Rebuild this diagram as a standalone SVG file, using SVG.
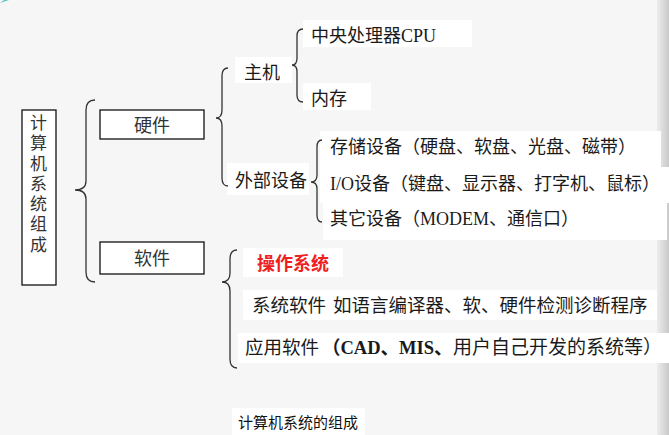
<svg xmlns="http://www.w3.org/2000/svg" width="669" height="435" viewBox="0 0 669 435">
<defs>
<linearGradient id="edge" x1="0" y1="0" x2="1" y2="0">
<stop offset="0" stop-color="#ececec"/>
<stop offset="1" stop-color="#c9c9c9"/>
</linearGradient>
<style>
.bg{fill:#f6f6f6}
.patch{fill:#ffffff}
.box{fill:#ffffff;stroke:#111;stroke-width:1.3}
.brace{fill:none;stroke:#333;stroke-width:1.3}
.t{font-family:"Liberation Serif","Noto Sans CJK SC",serif;font-size:18px;fill:#1a1a1a}
.s{font-family:"Noto Sans CJK SC","Liberation Sans",sans-serif;fill:#333}
.red{font-family:"Liberation Serif","Noto Sans CJK SC",serif;font-size:18px;font-weight:bold;fill:#f02020}
.cap{font-family:"Noto Sans CJK SC","Liberation Sans",sans-serif;font-size:15px;fill:#111}
</style>
</defs>
<rect class="bg" x="0" y="0" width="669" height="435"/>
<rect x="657" y="0" width="12" height="435" fill="url(#edge)"/>
<path d="M0,3 L9,0 L4,0 Z" fill="#5cc6c0"/>
<g id="patches">
<rect class="patch" x="303" y="20" width="169" height="27"/>
<rect class="patch" x="235" y="57" width="57" height="26"/>
<rect class="patch" x="303" y="83" width="68" height="27"/>
<rect class="patch" x="320" y="131" width="341" height="36"/>
<rect class="patch" x="227" y="163" width="82" height="32"/>
<rect class="patch" x="320" y="167" width="349" height="36"/>
<rect class="patch" x="323" y="203" width="344" height="37"/>
<rect class="patch" x="243" y="248" width="100" height="29"/>
<rect class="patch" x="243" y="290" width="414" height="30"/>
<rect class="patch" x="238" y="333" width="431" height="30"/>
<rect class="patch" x="232" y="408" width="133" height="27"/>
</g>
<g id="connectors">
<path class="brace" d="M95,100 Q86,100 86,110 L86,181 Q86,190 75,190 Q86,190 86,199 L86,272 Q86,282 95,282"/>
<path class="brace" d="M228,68 Q222,68 222,76 L222,110 Q222,118 216,118 Q222,118 222,126 L222,178 Q222,186 228,186"/>
<path class="brace" d="M303,29 Q297,29 297,36 L297,58 Q297,65 292,65 Q297,65 297,72 L297,95 Q297,102 303,102"/>
<path class="brace" d="M322,140 Q317,140 317,147 L317,175 Q317,182 311,182 Q317,182 317,189 L317,215 Q317,222 322,222"/>
<path class="brace" d="M237,250 Q230,250 230,259 L230,273 Q230,282 222,282 Q230,282 230,291 L230,359 Q230,368 237,368"/>
</g>
<g id="root">
<rect class="box" x="22" y="110" width="34" height="175"/>
<text class="s" font-size="17" x="38.5" y="114" style="writing-mode:vertical-rl;letter-spacing:3.3px">计算机系统组成</text>
</g>
<g id="hardware">
<rect class="box" x="100" y="110" width="104" height="29"/>
<text class="s" font-size="18" text-anchor="middle" x="152" y="131.5">硬件</text>
</g>
<g id="software">
<rect class="box" x="100" y="242" width="104" height="32"/>
<text class="s" font-size="18" text-anchor="middle" x="152" y="264.5">软件</text>
</g>
<g id="host">
<text class="t" x="244" y="78.5">主机</text>
</g>
<g id="cpu">
<text class="t" x="311" y="41.5">中央处理器CPU</text>
</g>
<g id="memory">
<text class="t" x="311" y="104.5">内存</text>
</g>
<g id="peripheral">
<text class="t" x="235" y="186.5">外部设备</text>
</g>
<g id="storage">
<text class="t" x="330" y="152.5">存储设备（硬盘、软盘、光盘、磁带）</text>
</g>
<g id="io">
<text class="t" x="330" y="189.5">I/O设备（键盘、显示器、打字机、鼠标）</text>
</g>
<g id="other">
<text class="t" x="330" y="224.5">其它设备（MODEM、通信口）</text>
</g>
<g id="os">
<text class="red" x="257" y="269.5">操作系统</text>
</g>
<g id="syssoft">
<text class="t" style="font-size:18.5px" x="252" y="311.5">系统软件</text>
<text class="t" style="font-size:18.5px" x="333" y="311.5">如语言编译器、软、硬件检测诊断程序</text>
</g>
<g id="appsoft">
<text class="t" style="font-size:18.5px" x="245" y="353.5">应用软件</text>
<text class="t" style="font-size:18.5px;font-weight:bold" x="322" y="353.5">（CAD、MIS、</text>
<text class="t" style="font-size:19px" x="453" y="353.5">用户自己开发的系统等）</text>
</g>
<g id="caption">
<text class="cap" x="238" y="428">计算机系统的组成</text>
</g>
</svg>
